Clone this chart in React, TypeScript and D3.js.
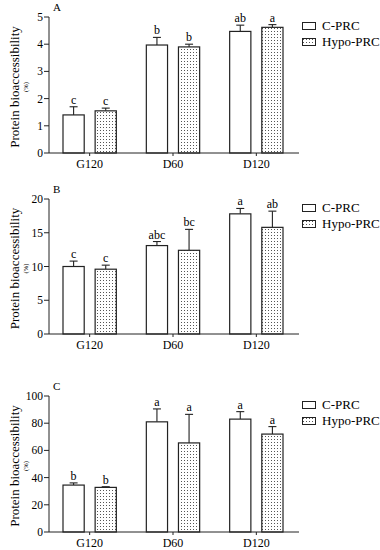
import * as d3 from "d3";

const W = 380;
const H = 550;

const groups = ["G120", "D60", "D120"];
const seriesNames = ["C-PRC", "Hypo-PRC"];

// panel A
const aMean = [[1.4, 1.55], [3.97, 3.9], [4.47, 4.62]];
const aErr = [[0.3, 0.1], [0.28, 0.1], [0.23, 0.1]];
const aLetters = [["c", "c"], ["b", "b"], ["ab", "a"]];
const aTicks = [0, 1, 2, 3, 4, 5];

// panel B
const bMean = [[10, 9.6], [13.1, 12.4], [17.8, 15.8]];
const bErr = [[0.8, 0.6], [0.6, 3.1], [0.8, 2.4]];
const bLetters = [["c", "c"], ["abc", "bc"], ["a", "ab"]];
const bTicks = [0, 5, 10, 15, 20];

// panel C
const cMean = [[34.5, 32.8], [81, 65.5], [83, 72]];
const cErr = [[1.6, 0.5], [9.5, 21], [5.5, 5.5]];
const cLetters = [["b", "b"], ["a", "a"], ["a", "a"]];
const cTicks = [0, 20, 40, 60, 80, 100];

const panels = [
  { label: "A", mean: aMean, err: aErr, letters: aLetters, ticks: aTicks, max: 5, top: 17, bottom: 153 },
  { label: "B", mean: bMean, err: bErr, letters: bLetters, ticks: bTicks, max: 20, top: 199, bottom: 334 },
  { label: "C", mean: cMean, err: cErr, letters: cLetters, ticks: cTicks, max: 100, top: 396, bottom: 532 },
];

const FONT = "'Liberation Serif', 'Times New Roman', serif";
const LEFT = 49;
const RIGHT = 299;

const x0 = d3.scaleBand().domain(groups).range([48, 298]).padding(0);
const x1 = d3
  .scaleBand()
  .domain(seriesNames)
  .range([x0.bandwidth() * 0.18, x0.bandwidth() * 0.82])
  .paddingInner(0.34);

const Panel = ({ p }: { p: (typeof panels)[number] }) => {
  const y = d3.scaleLinear().domain([0, p.max]).range([p.bottom, p.top]);
  const midY = (p.top + p.bottom) / 2 + 2;
  return (
    <g>
      <text x={LEFT + 4} y={p.top - 6} fontSize={11} fontFamily={FONT}>
        {p.label}
      </text>
      {/* y label */}
      <text
        transform={`translate(19,${midY}) rotate(-90)`}
        textAnchor="middle"
        fontSize={13}
        fontFamily={FONT}
      >
        Protein bioaccessibility
      </text>
      <text
        transform={`translate(28,${midY}) rotate(-90)`}
        textAnchor="middle"
        fontSize={6.5}
        fontFamily={FONT}
      >
        (%)
      </text>

      {/* bars */}
      {groups.map((g, gi) =>
        seriesNames.map((s, si) => {
          const bx = (x0(g) ?? 0) + (x1(s) ?? 0);
          const bw = x1.bandwidth();
          const v = p.mean[gi][si];
          const e = p.err[gi][si];
          const cx = bx + bw / 2;
          return (
            <g key={g + s}>
              <line x1={cx} x2={cx} y1={y(v)} y2={y(v + e)} stroke="#222" strokeWidth={1.1} />
              <line x1={cx - 4} x2={cx + 4} y1={y(v + e)} y2={y(v + e)} stroke="#222" strokeWidth={1.1} />
              <rect
                x={bx}
                y={y(v)}
                width={bw}
                height={y(0) - y(v)}
                fill={si === 0 ? "white" : "url(#dots)"}
                stroke="#222"
                strokeWidth={1.2}
              />
              <text
                x={cx}
                y={y(v + e) - 3}
                textAnchor="middle"
                fontSize={12}
                fontFamily={FONT}
              >
                {p.letters[gi][si]}
              </text>
            </g>
          );
        })
      )}

      {/* y axis */}
      <line x1={LEFT} x2={LEFT} y1={p.top} y2={p.bottom} stroke="#222" strokeWidth={1} />
      {p.ticks.map((t) => (
        <g key={t}>
          <line x1={LEFT - 5} x2={LEFT} y1={y(t)} y2={y(t)} stroke="#222" strokeWidth={1} />
          <text
            x={LEFT - 6}
            y={y(t)}
            dy="0.35em"
            textAnchor="end"
            fontSize={11.5}
            fontFamily={FONT}
          >
            {t}
          </text>
        </g>
      ))}

      {/* x axis */}
      <line x1={LEFT} x2={RIGHT} y1={p.bottom} y2={p.bottom} stroke="#222" strokeWidth={1} />
      {groups.map((g) => {
        const cx = (x0(g) ?? 0) + x0.bandwidth() / 2;
        return (
          <g key={g}>
            <line x1={cx} x2={cx} y1={p.bottom} y2={p.bottom + 3} stroke="#222" strokeWidth={1} />
            <text x={cx} y={p.bottom + 15} textAnchor="middle" fontSize={12} fontFamily={FONT}>
              {g}
            </text>
          </g>
        );
      })}

      {/* legend */}
      {seriesNames.map((s, si) => (
        <g key={s} transform={`translate(302,${p.top + 5 + si * 16})`}>
          <rect
            x={0.5}
            y={0.5}
            width={13}
            height={7}
            fill={si === 0 ? "white" : "url(#dots)"}
            stroke="#222"
            strokeWidth={1}
          />
          <text x={20} y={8} fontSize={13} fontFamily={FONT}>
            {s}
          </text>
        </g>
      ))}
    </g>
  );
};

export default function App() {
  return (
    <svg
      width={W}
      height={H}
      style={{ position: "absolute", left: 0, top: 0, background: "white" }}
    >
      <defs>
        <pattern id="dots" width={3} height={3} patternUnits="userSpaceOnUse">
          <rect width={3} height={3} fill="white" />
          <rect x={1} y={1} width={1} height={1} fill="#555" />
        </pattern>
      </defs>
      {panels.map((p) => (
        <Panel key={p.label} p={p} />
      ))}
    </svg>
  );
}
